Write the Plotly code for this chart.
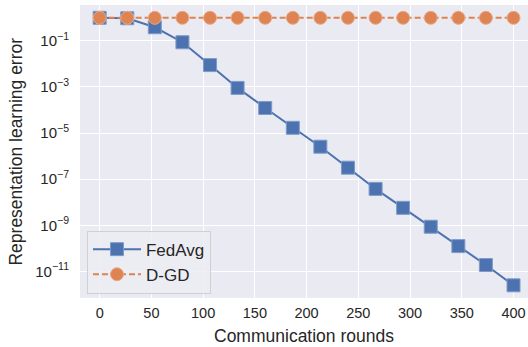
import numpy as np
import plotly.graph_objects as go

rounds = [0, 26.7, 53.3, 80, 106.7, 133.3, 160, 186.7, 213.3, 240, 266.7, 293.3, 320, 346.7, 373.3, 400]
fedavg_log10 = [0.0, -0.02, -0.41, -1.06, -2.05, -3.04, -3.91, -4.77, -5.59, -6.50, -7.42, -8.24, -9.06, -9.90, -10.72, -11.60]
dgd_log10 = [0.0] * 16
fedavg = [10 ** v for v in fedavg_log10]
dgd = [10 ** v for v in dgd_log10]

ytick_exps = [-11, -9, -7, -5, -3, -1]
ytickvals = [10.0 ** e for e in ytick_exps]
yticktext = ["10<sup>\u2212%d</sup>" % (-e) for e in ytick_exps]
xtickvals = [0, 50, 100, 150, 200, 250, 300, 350, 400]

blue = "#4C72B0"
orange = "#DD8452"

fig = go.Figure()
fig.add_trace(go.Scatter(
    x=rounds, y=fedavg, name="FedAvg", mode="lines+markers",
    line=dict(color=blue, width=2),
    marker=dict(symbol="square", size=13, color=blue, line=dict(color="#7f9bc9", width=1)),
))
fig.add_trace(go.Scatter(
    x=rounds, y=dgd, name="D-GD", mode="lines+markers",
    line=dict(color=orange, width=2, dash="6px,3px"),
    marker=dict(symbol="circle", size=13, color=orange, line=dict(color="#e9a989", width=1)),
))

font = "Liberation Sans, Arial, sans-serif"
fig.update_layout(
    width=528, height=347,
    margin=dict(l=80, r=0, t=5, b=49, autoexpand=False),
    paper_bgcolor="white", plot_bgcolor="#EAEAF2",
    font=dict(family=font, size=14, color="#262626"),
    showlegend=True,
    legend=dict(
        x=0.0156, y=0.015, xanchor="left", yanchor="bottom",
        bgcolor="rgba(236,236,243,0.85)", bordercolor="#D0D0D0", borderwidth=1,
        font=dict(size=17, color="#262626"),
        tracegroupgap=0, itemwidth=48,
    ),
    xaxis=dict(
        range=[-19, 414], tickvals=xtickvals, showgrid=True, gridcolor="white", gridwidth=1.2,
        zeroline=False, showline=False, ticks="", automargin=False,
        tickfont=dict(size=14.5), ticklabelstandoff=4,
    ),
    yaxis=dict(
        type="log", range=[-12.15, 0.555], tickvals=ytickvals, ticktext=yticktext,
        showgrid=True, gridcolor="white", gridwidth=1.2, zeroline=False, showline=False, ticks="",
        automargin=False, tickfont=dict(size=15), ticklabelstandoff=10,
    ),
    annotations=[
        dict(text="Communication rounds", xref="paper", yref="paper", x=0.5, y=-0.13,
             xanchor="center", yanchor="middle", showarrow=False, font=dict(size=17.5)),
        dict(text="Representation learning error", xref="paper", yref="paper", x=-0.145, y=0.5,
             xanchor="center", yanchor="middle", textangle=-90, showarrow=False, font=dict(size=17.5)),
    ],
)

fig.write_html("out.html", config={"displayModeBar": False},
               post_script="document.body.style.margin='0px';document.body.style.overflow='hidden';")
